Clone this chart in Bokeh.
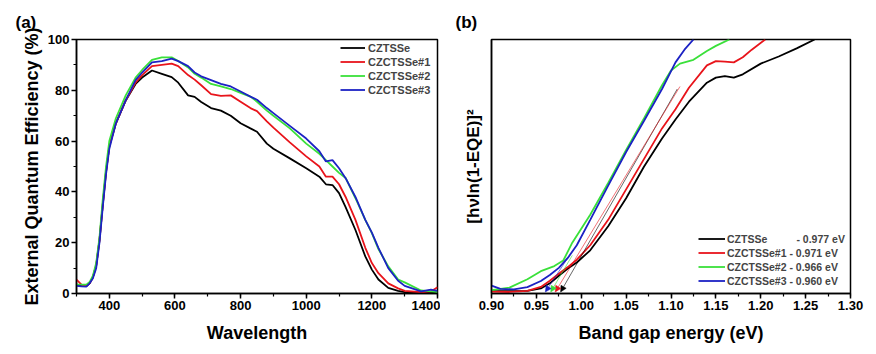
from bokeh.plotting import figure
from bokeh.layouts import row
from bokeh.models import (SingleIntervalTicker, FixedTicker, NumeralTickFormatter,
                          Legend, LegendItem, Arrow, NormalHead)
from bokeh.embed import file_html
from bokeh.resources import INLINE

FONT = "Liberation Sans"

names = ["CZTSSe", "CZCTSSe#1", "CZCTSSe#2", "CZCTSSe#3"]
colors = ["#000000", "#e8141b", "#3ae03a", "#1c22c4"]

# ---- panel (a): EQE vs wavelength ----
wavelength = [300, 315, 330, 340, 350, 360, 370, 380, 390, 400, 420, 450, 480, 500, 530,
              560, 590, 610, 640, 660, 680, 710, 740, 770, 800, 830, 850, 880, 900, 950,
              1000, 1040, 1060, 1080, 1100, 1120, 1150, 1180, 1200, 1220, 1250, 1280, 1300,
              1350, 1380, 1400]
eqe_czts = [3.5, 3.0, 2.9, 4.0, 6.5, 11, 21, 35, 48, 58, 67, 76, 82.5, 85, 87.8,
            86.5, 85.2, 83, 78, 77.4, 75.4, 73, 72, 70, 67, 65, 63.7, 59, 57, 53.2,
            49.3, 46, 43, 42.7, 39.5, 34, 25, 14.6, 9.4, 5.5, 2.2, 1.0, 0.5,
            0.3, 0.5, 0.5]
eqe_1 = [5.5, 3.5, 3.0, 4.0, 6.5, 11, 21, 35, 48, 58, 67, 76, 83, 86, 89.5,
         90, 90.5, 89.5, 86, 84.2, 82, 78.5, 77.8, 78, 75.5, 73, 71.8, 67.8, 65.3, 59.5,
         54, 50, 46, 46, 43, 38, 29, 18, 12, 8, 4, 2, 1,
         0.5, 0.8, 2.5]
eqe_2 = [3.5, 3.5, 3.5, 4.5, 7, 12, 22, 37, 50, 60, 69, 78, 85, 88, 92,
         93, 93, 91.5, 89, 86.5, 85, 82.5, 81.5, 80.5, 79, 77.5, 75.5, 72, 70, 65,
         59, 55, 52.5, 50, 47.5, 45.5, 37.5, 29, 23.8, 17.5, 10.7, 5.5, 4.4,
         1.2, 0.8, 0.5]
eqe_3 = [3, 2.8, 2.7, 4, 6, 10, 20, 34, 47, 57, 67, 76, 84, 87, 91,
         91.5, 92.5, 91.5, 89.5, 87, 85.5, 84, 82.5, 81.5, 79.5, 77.5, 76.3, 73, 71, 66,
         61, 56, 52, 52.5, 49.3, 45.4, 38, 29, 24, 18, 10, 5, 3,
         0.8, 1.5, 1]
eqe_series = [eqe_czts, eqe_1, eqe_2, eqe_3]

# ---- panel (b): [hv ln(1-EQE)]^2 vs energy ----
e_czts = [0.90, 0.92, 0.94, 0.955, 0.965, 0.975, 0.985, 0.995, 1.01, 1.03, 1.05, 1.07,
          1.09, 1.105, 1.12, 1.14, 1.15, 1.16, 1.17, 1.18, 1.20, 1.22, 1.24, 1.26]
t_czts = [0.9, 0.9, 1.0, 2.0, 4.0, 7.0, 9.8, 12.2, 17, 26.5, 37.5, 50,
          61, 68.5, 75.5, 83, 85, 85.6, 85, 86.3, 90.5, 93.3, 96.5, 100]
e_1 = [0.90, 0.92, 0.94, 0.955, 0.965, 0.975, 0.985, 0.995, 1.01, 1.03, 1.05, 1.07,
       1.09, 1.105, 1.12, 1.14, 1.15, 1.16, 1.17, 1.18, 1.19, 1.205]
t_1 = [0.7, 0.6, 1.0, 2.6, 5.0, 7.8, 10.4, 13.3, 19, 29, 41, 53,
       65, 72.5, 81, 89.8, 91.5, 91.3, 91, 93, 96, 100]
e_2 = [0.90, 0.92, 0.94, 0.955, 0.97, 0.98, 0.99, 1.01, 1.03, 1.05, 1.07, 1.09,
       1.10, 1.11, 1.125, 1.14, 1.15, 1.165]
t_2 = [1.3, 2.3, 5.6, 8.8, 10.8, 13, 20, 31, 43.5, 56.5, 69, 82,
       87.8, 90.5, 92, 95.5, 97.5, 100]
e_3 = [0.90, 0.91, 0.925, 0.94, 0.955, 0.965, 0.975, 0.985, 0.995, 1.01, 1.03, 1.05,
       1.07, 1.09, 1.105, 1.115, 1.125]
t_3 = [3.1, 1.8, 1.6, 2.5, 4.9, 7.3, 10.1, 14, 19, 29, 42.5, 55.7,
       68, 80.5, 91, 96, 100]
energy_series = [e_czts, e_1, e_2, e_3]
tauc_series = [t_czts, t_1, t_2, t_3]

band_gaps = [0.977, 0.971, 0.966, 0.960]
tangent_end_x = [1.107, 1.110, 0.990, 0.985]
tangent_end_y = [80.5, 81.5, 15.0, 14.0]


def style(p, tag, offset):
    p.xgrid.visible = False
    p.ygrid.visible = False
    p.outline_line_color = "black"
    p.outline_line_width = 1.5
    p.outline_line_alpha = 1
    p.background_fill_color = "white"
    p.title.text = tag
    p.title.align = "left"
    p.title.vertical_align = "top"
    p.title.offset = offset
    p.title.standoff = 12
    p.title.text_font = FONT
    p.title.text_font_style = "bold"
    p.title.text_font_size = "17px"
    p.title.text_color = "black"
    for ax in list(p.xaxis) + list(p.yaxis):
        ax.axis_line_width = 1.5
        ax.major_tick_line_width = 1.5
        ax.minor_tick_line_width = 1.2
        ax.major_tick_out = 5
        ax.major_tick_in = 0
        ax.minor_tick_out = 3
        ax.minor_tick_in = 0
        ax.major_label_text_font = FONT
        ax.major_label_text_font_style = "bold"
        ax.major_label_text_font_size = "13px"
        ax.major_label_text_color = "black"
        ax.major_label_standoff = 2
        ax.axis_label_text_font = FONT
        ax.axis_label_text_font_style = "bold"
        ax.axis_label_text_color = "black"


# ---------- left figure ----------
pa = figure(width=440, height=354, x_range=(300, 1400), y_range=(0, 100),
            output_backend="svg", toolbar_location=None,
            min_border_left=76, min_border_right=3, min_border_top=39, min_border_bottom=60)
style(pa, "(a)", -61)
pa.xaxis.ticker = SingleIntervalTicker(interval=200, num_minor_ticks=2)
pa.yaxis.ticker = SingleIntervalTicker(interval=20, num_minor_ticks=2)
pa.xaxis.axis_label = "Wavelength"
pa.xaxis.axis_label_text_font_size = "18px"
pa.xaxis.axis_label_standoff = 10
pa.yaxis.axis_label = "External Quantum Efficiency (%)"
pa.yaxis.axis_label_text_font_size = "18px"
pa.yaxis.axis_label_standoff = 3

items_a = []
for name, col, ys in zip(names, colors, eqe_series):
    r = pa.line(wavelength, ys, line_color=col, line_width=1.8)
    items_a.append(LegendItem(label=name, renderers=[r]))
leg_a = Legend(items=items_a, location=(264, 197), padding=0, spacing=1,
               label_height=13, glyph_height=13, glyph_width=25, label_standoff=3,
               label_text_font=FONT, label_text_font_style="bold",
               label_text_font_size="11px", background_fill_alpha=0,
               border_line_alpha=0)
pa.add_layout(leg_a)

# ---------- right figure ----------
pb = figure(width=436, height=354, x_range=(0.90, 1.30), y_range=(0, 100),
            output_backend="svg", toolbar_location=None,
            min_border_left=51, min_border_right=26, min_border_top=39, min_border_bottom=61)
style(pb, "(b)", -36)
pb.xaxis.ticker = SingleIntervalTicker(interval=0.05, num_minor_ticks=2)
pb.xaxis.formatter = NumeralTickFormatter(format="0.00")
pb.yaxis.ticker = FixedTicker(ticks=[])
pb.xaxis.axis_label = "Band gap energy (eV)"
pb.xaxis.axis_label_text_font_size = "18px"
pb.xaxis.axis_label_standoff = 10
pb.yaxis.axis_label = "[hνln(1-EQE)]²"
pb.yaxis.axis_label_text_font_size = "17px"
pb.yaxis.axis_label_standoff = 9

items_b = []
for i, (name, col, xs, ys, eg) in enumerate(zip(names, colors, energy_series, tauc_series, band_gaps)):
    r = pb.line(xs, ys, line_color=col, line_width=1.8)
    pad = "\u00a0" * 10 if name == "CZTSSe" else " "
    items_b.append(LegendItem(label=f"{name}{pad}- {eg:.3f} eV", renderers=[r]))
    pb.add_layout(Arrow(end=NormalHead(size=6, fill_color=col, line_color=col, line_width=0.5),
                        x_start=tangent_end_x[i], y_start=tangent_end_y[i],
                        x_end=eg, y_end=0.6, line_color=col, line_width=0.6))
leg_b = Legend(items=items_b, location=(207, 6), padding=0, spacing=1,
               label_height=13, glyph_height=13, glyph_width=27, label_standoff=2,
               label_text_font=FONT, label_text_font_style="bold",
               label_text_font_size="10.5px", background_fill_alpha=0,
               border_line_alpha=0)
pb.add_layout(leg_b)

layout = row(pa, pb)
open("out.html", "w").write(file_html(layout, INLINE))
